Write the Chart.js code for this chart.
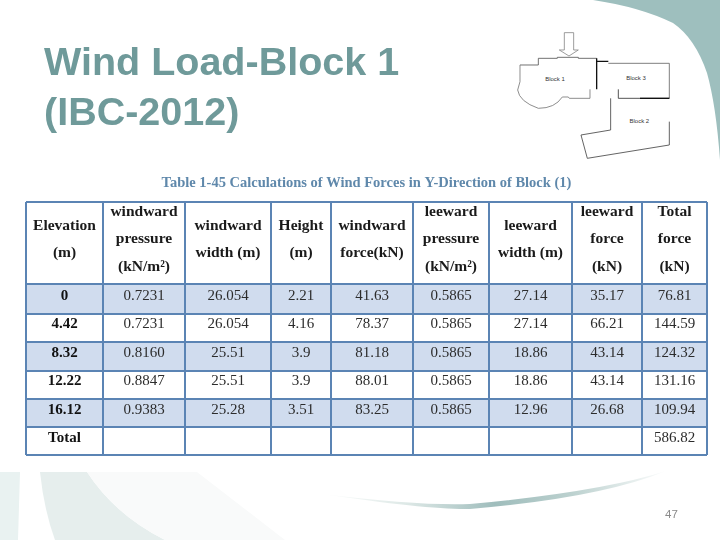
<!DOCTYPE html>
<html>
<head>
<meta charset="utf-8">
<script src="https://cdn.jsdelivr.net/npm/chart.js@4"></script>
<style>
html,body{margin:0;padding:0;background:#fff;width:720px;height:540px;overflow:hidden}
#deco{position:absolute;left:0;top:0}
#c{position:absolute;left:0;top:0}
.t{position:absolute;white-space:nowrap}
#h1,#h2{left:44px;font:bold 39.5px "Liberation Sans",sans-serif;color:#6f9a9a;line-height:46px}
#h1{top:38px}#h2{top:88px}
#pg{left:665px;top:508px;font:11.5px "Liberation Sans",sans-serif;color:#8a8a8a}
</style>
</head>
<body>
<svg id="deco" width="720" height="540" viewBox="0 0 720 540">
  <defs>
    <linearGradient id="sw" x1="320" x2="670" y1="0" y2="0" gradientUnits="userSpaceOnUse">
      <stop offset="0" stop-color="#ffffff"/><stop offset=".25" stop-color="#dde8e6"/>
      <stop offset=".5" stop-color="#9fbdbc"/><stop offset=".72" stop-color="#bcd1cf"/><stop offset="1" stop-color="#ffffff"/>
    </linearGradient>
  </defs>
  <path d="M593 0 Q640 7 673 23 Q695 38 707 73 Q716 105 720 160 L720 0Z" fill="#9ebfbe"/>
  <path d="M0 472H20L18 540H0Z" fill="#e9f2f1"/>
  <path d="M40 472H87Q115 515 165 540H55Q44 510 40 472Z" fill="#e6eeed"/>
  <path d="M87 472H197L285 540H165Q115 515 87 472Z" fill="#f9fafa"/>
  <path d="M322 494Q430 510 470 509Q600 498 666 471Q600 492 470 504Q420 506 322 494Z" fill="url(#sw)"/>
  <g transform="translate(500 0) scale(.3333)" fill="none" stroke="#555" stroke-width="2.5">
    <path d="M193 98V150H178L207 168L235 150H221V98H193" stroke="#888"/>
    <path d="M60 195H115V175H172V172H235V175H290"/>
    <path d="M60 195V245L53 270Q58 305 115 325Q165 325 187 291H205L208 295H270V268" stroke="#777"/>
    <path d="M290 184H325M290 175V268" stroke="#111" stroke-width="4"/>
    <path d="M325 190H508V295H420" stroke="#666"/>
    <path d="M420 295H508" stroke="#111" stroke-width="4"/>
    <path d="M355 295H420M355 268V295" stroke="#333"/>
    <path d="M332 295V390L243 405L262 475L508 435V365" stroke="#444"/>
    <g font-family="Liberation Sans" font-size="18" fill="#333" stroke="none" text-anchor="middle">
      <text x="165" y="243">Block 1</text><text x="408" y="240">Block 3</text><text x="418" y="369">Block 2</text>
    </g>
  </g>
</svg>
<canvas id="c" width="720" height="540"></canvas>
<div class="t" id="h1">Wind Load-Block 1</div>
<div class="t" id="h2">(IBC-2012)</div>
<div class="t" id="pg">47</div>
<script>
const captionText = "Table 1-45 Calculations of Wind Forces in Y-Direction of Block (1)";
const elevation = ["0","4.42","8.32","12.22","16.12","Total"];
const windwardPressure = ["0.7231","0.7231","0.8160","0.8847","0.9383",""];
const windwardWidth = ["26.054","26.054","25.51","25.51","25.28",""];
const heights = ["2.21","4.16","3.9","3.9","3.51",""];
const windwardForce = ["41.63","78.37","81.18","88.01","83.25",""];
const leewardPressure = ["0.5865","0.5865","0.5865","0.5865","0.5865",""];
const leewardWidth = ["27.14","27.14","18.86","18.86","12.96",""];
const leewardForce = ["35.17","66.21","43.14","43.14","26.68",""];
const totalForce = ["76.81","144.59","124.32","131.16","109.94","586.82"];
const tableColumns = [elevation,windwardPressure,windwardWidth,heights,windwardForce,leewardPressure,leewardWidth,leewardForce,totalForce];
const headers = [
  ["Elevation","(m)"],["windward","pressure","(kN/m²)"],["windward","width (m)"],["Height","(m)"],
  ["windward","force(kN)"],["leeward","pressure","(kN/m²)"],["leeward","width (m)"],["leeward","force","(kN)"],["Total","force","(kN)"]
];
const colEdges = [26,103,185,271,331,413,489,572,642,707];
const rowEdges = [202,284,314,342,371,399,427,455];
const shadedRows = [1,3,5];
const rowTextY = [296,324,353,381,410,438];
const headerLineY3 = [212,239,267];
const headerLineY2 = [226,253];

const tableText = {
  id:"tableText",
  afterDatasetsDraw(chart){
    const {ctx,scales:{x,y}} = chart;
    ctx.save();
    ctx.textAlign="center"; ctx.textBaseline="middle";
    tableColumns.forEach((col,c)=>{
      const cx = x.getPixelForValue((colEdges[c]+colEdges[c+1])/2);
      ctx.fillStyle="#1a1a1a";
      ctx.font='bold 15.5px "Liberation Serif",serif';
      const lines = headers[c];
      const ys = lines.length===3 ? headerLineY3 : headerLineY2;
      lines.forEach((s,i)=>ctx.fillText(s,cx,y.getPixelForValue(ys[i])));
      ctx.font = (c===0?'bold ':'')+'15px "Liberation Serif",serif';
      ctx.fillStyle = c===0 ? "#111" : "#2c2c2c";
      col.forEach((s,r)=>ctx.fillText(s,cx,y.getPixelForValue(rowTextY[r])));
    });
    ctx.restore();
  }
};

new Chart(document.getElementById("c"),{
  type:"bar",
  data:{datasets:[{
    data:shadedRows.map(r=>({x:[colEdges[0],colEdges[colEdges.length-1]],y:(rowEdges[r]+rowEdges[r+1])/2})),
    backgroundColor:"#d0dcee",
    borderWidth:0,
    barThickness:29
  }]},
  options:{
    indexAxis:"y",
    responsive:false,
    animation:false,
    events:[],
    layout:{padding:{left:26,right:13,top:174.6,bottom:85}},
    plugins:{
      legend:{display:false},
      tooltip:{enabled:false},
      title:{display:true,text:captionText,color:"#5f88ab",
        font:{family:"Liberation Serif",size:14.5,weight:"bold"},
        padding:{top:0,bottom:10}}
    },
    scales:{
      x:{type:"linear",min:26,max:707,
        afterBuildTicks(a){a.ticks=colEdges.map(v=>({value:v}));},
        ticks:{display:false,autoSkip:false},
        border:{display:false},
        grid:{color:"#5b84b4",lineWidth:2,drawTicks:false,z:1}},
      y:{type:"linear",reverse:true,min:202,max:455,offset:false,
        afterBuildTicks(a){a.ticks=rowEdges.map(v=>({value:v}));},
        ticks:{display:false,autoSkip:false},
        border:{display:false},
        grid:{color:"#5b84b4",lineWidth:2,drawTicks:false,offset:false,z:1}}
    }
  },
  plugins:[tableText]
});
</script>
</body>
</html>
